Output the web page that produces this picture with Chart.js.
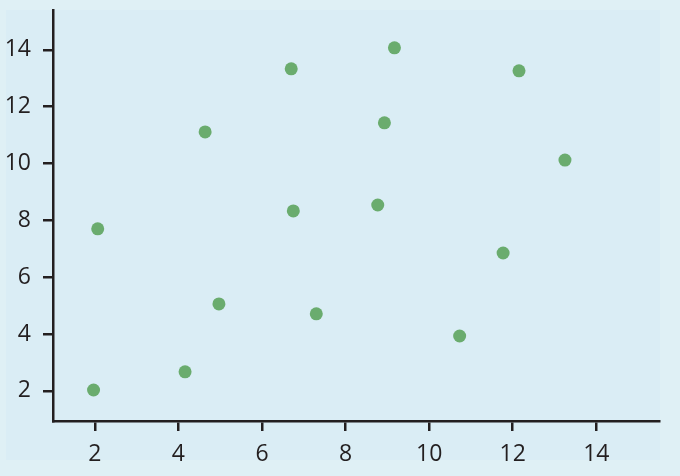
<!DOCTYPE html>
<html>
<head>
<meta charset="utf-8">
<script src="https://cdn.jsdelivr.net/npm/chart.js@4/dist/chart.umd.min.js"></script>
<style>
html,body{margin:0;padding:0;background:#dff0f5;}
#wrap{width:680px;height:476px;position:relative;}
</style>
</head>
<body>
<div id="wrap"><canvas id="c" width="680" height="476"></canvas></div>
<script>
const xValues = [1.97, 2.07, 4.16, 4.64, 4.97, 6.70, 6.75, 7.30, 8.77, 8.93, 9.17, 10.73, 11.77, 12.15, 13.25];
const yValues = [2.03, 7.70, 2.67, 11.11, 5.06, 13.33, 8.33, 4.71, 8.54, 11.43, 14.07, 3.93, 6.85, 13.26, 10.12];
const xTicks = [2, 4, 6, 8, 10, 12, 14];
const yTicks = [2, 4, 6, 8, 10, 12, 14];

const points = xValues.map((x, i) => ({x: x, y: yValues[i]}));
const axisColor = '#231f20';
const tickFont = {family: "'Open Sans', sans-serif", size: 23};

const bgPlugin = {
  id: 'bg',
  beforeDraw(chart) {
    const ctx = chart.ctx;
    ctx.save();
    ctx.fillStyle = '#dff0f5';
    ctx.fillRect(0, 0, chart.width, chart.height);
    ctx.fillStyle = '#daedf5';
    ctx.fillRect(6, 10, 654, 450);
    ctx.restore();
  }
};

function noPad(scale) {
  scale.paddingTop = 0; scale.paddingBottom = 0;
  scale.paddingLeft = 0; scale.paddingRight = 0;
}

new Chart(document.getElementById('c'), {
  type: 'scatter',
  data: {
    datasets: [{
      data: points,
      backgroundColor: 'rgb(106,172,110)',
      borderWidth: 0,
      pointRadius: 6.5,
      pointHoverRadius: 6.5
    }]
  },
  options: {
    responsive: false,
    animation: false,
    plugins: {legend: {display: false}, tooltip: {enabled: false}},
    layout: {padding: {left: 0, top: 10, right: 21, bottom: 0}},
    scales: {
      x: {
        type: 'linear',
        min: 1,
        max: 15.5,
        afterBuildTicks(scale) { scale.ticks = xTicks.map(v => ({value: v})); },
        afterFit(scale) { scale.height = 55; noPad(scale); },
        grid: {display: true, drawOnChartArea: false, drawTicks: true, tickLength: 10, lineWidth: 2.5, color: axisColor},
        border: {display: true, color: axisColor, width: 2.5},
        ticks: {color: axisColor, font: tickFont, padding: 10, maxRotation: 0}
      },
      y: {
        type: 'linear',
        min: 0.94,
        max: 15.4,
        afterBuildTicks(scale) { scale.ticks = yTicks.map(v => ({value: v})); },
        afterFit(scale) { scale.width = 53; noPad(scale); },
        grid: {display: true, drawOnChartArea: false, drawTicks: true, tickLength: 10, lineWidth: 2.5, color: axisColor},
        border: {display: true, color: axisColor, width: 2.5},
        ticks: {color: axisColor, font: tickFont, padding: 12}
      }
    }
  },
  plugins: [bgPlugin]
});
</script>
</body>
</html>
